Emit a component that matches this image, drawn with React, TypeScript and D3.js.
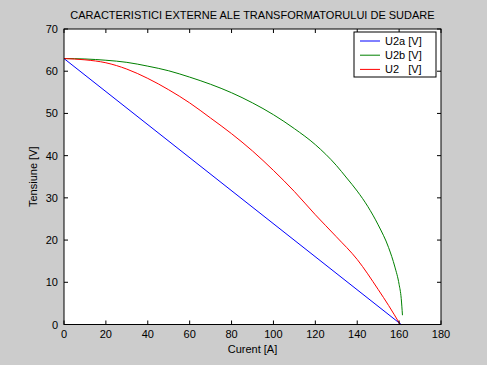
import React from "react";
import * as d3 from "d3";

const title = "CARACTERISTICI EXTERNE ALE TRANSFORMATORULUI DE SUDARE";
const xTicks = [0, 20, 40, 60, 80, 100, 120, 140, 160, 180];
const yTicks = [0, 10, 20, 30, 40, 50, 60, 70];

const u2aI = [0, 161];
const u2aU = [63, 0];

const u2bI = [0, 10, 20, 30, 40, 50, 60, 70, 80, 90, 100, 110, 120, 130, 135, 140, 145, 150, 155, 158, 160, 161, 161.6];
const u2bU = [63, 62.9, 62.6, 62.1, 61.2, 60.1, 58.6, 56.9, 54.9, 52.5, 49.7, 46.4, 42.6, 37.7, 34.7, 31.6, 28.0, 23.6, 18.2, 13.6, 9.5, 6.2, 2.2];

const u2I = [0, 10, 20, 30, 40, 50, 60, 70, 80, 90, 100, 110, 120, 130, 140, 150, 155, 160.5];
const u2U = [63, 62.7, 62, 60.5, 58.3, 55.6, 52.5, 48.9, 45.2, 41.1, 36.5, 31.5, 26.0, 20.8, 15.4, 8.3, 4.5, 0];

const series = [
  { name: "U2a [V]", I: u2aI, U: u2aU, color: "#0000ff" },
  { name: "U2b [V]", I: u2bI, U: u2bU, color: "#008000" },
  { name: "U2   [V]", I: u2I, U: u2U, color: "#ff0000" },
];

export default function App() {
  const W = 487, H = 365;
  const L = 64, R = 441, T = 29, B = 324.5;
  const x = d3.scaleLinear().domain([0, 180]).range([L, R]);
  const y = d3.scaleLinear().domain([0, 70]).range([B, T]);
  const font = "'Liberation Sans', Arial, Helvetica, sans-serif";
  const tl = 4;
  return (
    <svg width={W} height={H} style={{ position: "fixed", left: 0, top: 0 }} fontFamily={font}>
      <rect width={W} height={H} fill="#cccccc" />
      <rect x={L} y={T} width={R - L} height={B - T} fill="#ffffff" />
      {series.map((s) => {
        const pts = s.I.map((v, i) => [x(v), y(s.U[i])] as [number, number]);
        const line = d3.line().curve(d3.curveMonotoneX)(pts) || "";
        return <path key={s.name} d={line} fill="none" stroke={s.color} strokeWidth={1} />;
      })}
      <rect x={L} y={T} width={R - L} height={B - T} fill="none" stroke="#000" strokeWidth={1} />
      {xTicks.map((t) => (
        <g key={"x" + t}>
          <line x1={x(t)} x2={x(t)} y1={B} y2={B - tl} stroke="#000" />
          <line x1={x(t)} x2={x(t)} y1={T} y2={T + tl} stroke="#000" />
          <text x={x(t)} y={338} fontSize={11} textAnchor="middle" fill="#000">{t}</text>
        </g>
      ))}
      {yTicks.map((t) => (
        <g key={"y" + t}>
          <line x1={L} x2={L + tl} y1={y(t)} y2={y(t)} stroke="#000" />
          <line x1={R} x2={R - tl} y1={y(t)} y2={y(t)} stroke="#000" />
          <text x={58} y={y(t) + 4} fontSize={11} textAnchor="end" fill="#000">{t}</text>
        </g>
      ))}
      <text x={(L + R) / 2} y={19} fontSize={11} textAnchor="middle" fill="#000">{title}</text>
      <text x={(L + R) / 2} y={353} fontSize={11} textAnchor="middle" fill="#000">Curent [A]</text>
      <text transform={`translate(37,${(T + B) / 2}) rotate(-90)`} fontSize={11} textAnchor="middle" fill="#000">Tensiune [V]</text>
      <rect x={354} y={32} width={82} height={45} fill="#ffffff" stroke="#000" strokeWidth={1} />
      {series.map((s, i) => {
        const ly = 41 + i * 14.2;
        return (
          <g key={"l" + s.name}>
            <line x1={360} x2={380} y1={ly} y2={ly} stroke={s.color} />
            <text x={385} y={ly + 4} fontSize={11} fill="#000" style={{ whiteSpace: "pre" }}>{s.name}</text>
          </g>
        );
      })}
    </svg>
  );
}
